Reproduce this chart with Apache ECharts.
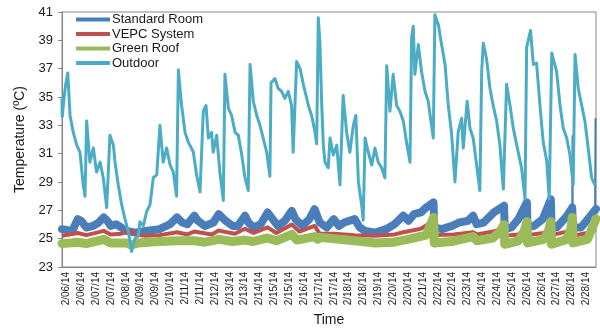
<!DOCTYPE html>
<html>
<head>
<meta charset="utf-8">
<title>Room temperatures, February 2014</title>
<script src="https://cdn.jsdelivr.net/npm/echarts@6/dist/echarts.min.js"></script>
<style>
  html, body { margin: 0; padding: 0; background: #ffffff; }
  #chart { width: 600px; height: 333px; }
</style>
</head>
<body>
<div id="chart"></div>
<script>
// Time is given in days from the start of the record (6 Feb 2014, ~01:00).

// Category-style date labels shown along the time axis
const tickLabels = [
  '2/06/14', '2/06/14', '2/07/14', '2/07/14', '2/08/14', '2/09/14', '2/09/14', '2/10/14',
  '2/11/14', '2/11/14', '2/12/14', '2/13/14', '2/13/14', '2/14/14', '2/15/14', '2/15/14',
  '2/16/14', '2/17/14', '2/17/14', '2/18/14', '2/18/14', '2/19/14', '2/20/14', '2/20/14',
  '2/21/14', '2/22/14', '2/22/14', '2/23/14', '2/24/14', '2/24/14', '2/25/14', '2/26/14',
  '2/26/14', '2/27/14', '2/28/14', '2/28/14'
];
const seriesNames = ['Standard Room', 'VEPC System', 'Green Roof', 'Outdoor'];

// Outdoor air temperature (°C)
const outdoorDays = [
  0.00, 0.01, 0.10, 0.16, 0.25, 0.35, 0.49, 0.64, 0.78, 0.92, 1.00, 1.07, 1.21, 1.36, 1.50, 1.65,
  1.79, 1.94, 2.08, 2.23, 2.30, 2.44, 2.59, 2.73, 2.88, 3.02, 3.17, 3.31, 3.38, 3.53, 3.67, 3.82,
  3.96, 4.11, 4.25, 4.39, 4.54, 4.69, 4.83, 4.97, 5.05, 5.19, 5.34, 5.48, 5.55, 5.70, 5.84, 5.99,
  6.13, 6.25, 6.35, 6.49, 6.56, 6.71, 6.85, 7.00, 7.07, 7.22, 7.36, 7.51, 7.65, 7.80, 7.94, 8.08,
  8.16, 8.30, 8.45, 8.59, 8.73, 8.88, 9.02, 9.07, 9.24, 9.38, 9.53, 9.67, 9.82, 9.96, 10.03, 10.18,
  10.33, 10.47, 10.69, 10.83, 10.98, 11.05, 11.12, 11.19, 11.27, 11.34, 11.41, 11.55, 11.63, 11.77, 11.92, 12.06,
  12.20, 12.35, 12.49, 12.64, 12.75, 12.86, 13.00, 13.07, 13.15, 13.29, 13.44, 13.58, 13.72, 13.87, 14.01, 14.09,
  14.23, 14.37, 14.52, 14.66, 14.81, 14.95, 15.10, 15.17, 15.24, 15.31, 15.46, 15.60, 15.75, 15.89, 16.11, 16.18,
  16.33, 16.47, 16.62, 16.76, 16.90, 17.05, 17.19, 17.34, 17.41, 17.58, 17.70, 17.84, 17.99, 18.13, 18.21, 18.28,
  18.42, 18.57, 18.71, 18.86, 19.00, 19.15, 19.29, 19.44, 19.58, 19.73, 19.94, 20.09, 20.16, 20.33, 20.45, 20.59,
  20.74, 20.88, 21.03, 21.14, 21.25, 21.46, 21.61, 21.75, 21.90, 22.04, 22.18, 22.26, 22.40, 22.55, 22.69, 22.83,
  22.98, 23.12
];
const outdoorTemp = [
  34.9, 33.6, 35.1, 35.9, 36.7, 33.7, 32.5, 31.6, 31.1, 28.8, 28.0, 33.3, 30.4, 31.4, 29.7, 30.4,
  29.3, 27.2, 32.3, 31.6, 30.4, 28.8, 27.4, 26.4, 25.5, 24.1, 25.0, 25.2, 26.2, 25.9, 26.9, 27.4,
  29.3, 29.5, 33.0, 30.4, 31.4, 30.2, 29.7, 28.0, 36.9, 34.4, 32.5, 31.8, 31.6, 31.1, 29.5, 28.3,
  34.0, 34.4, 32.1, 32.5, 31.1, 32.3, 29.7, 27.7, 36.6, 34.2, 33.7, 32.5, 32.3, 30.9, 29.3, 28.4,
  37.3, 34.7, 33.7, 33.0, 32.1, 31.1, 29.4, 36.0, 36.3, 35.6, 35.4, 34.9, 35.4, 34.4, 31.1, 37.5,
  37.0, 35.9, 34.4, 33.7, 32.5, 31.7, 40.6, 38.9, 34.4, 31.6, 30.4, 30.0, 32.1, 30.9, 31.6, 28.8,
  35.1, 32.5, 31.1, 33.0, 33.7, 29.0, 27.4, 26.3, 32.1, 31.1, 30.2, 31.4, 30.4, 30.0, 29.3, 37.2,
  34.0, 36.6, 34.4, 34.0, 33.3, 31.8, 30.4, 39.2, 40.0, 36.6, 38.7, 36.8, 35.4, 34.7, 32.1, 40.8,
  40.1, 38.7, 37.3, 34.4, 32.5, 29.0, 32.5, 33.5, 31.4, 34.7, 32.8, 32.1, 30.2, 28.4, 36.8, 38.8,
  37.7, 35.6, 34.4, 33.3, 31.6, 28.5, 35.9, 34.4, 32.8, 31.6, 30.0, 27.8, 38.5, 39.7, 37.3, 37.4,
  34.4, 31.8, 30.5, 27.8, 38.1, 36.8, 34.4, 32.8, 32.1, 30.9, 28.8, 38.0, 35.6, 34.4, 33.3, 31.4,
  29.3, 28.8
];

// Standard room (°C)
const roomDays = [
  0.00, 0.45, 0.68, 0.83, 1.06, 1.36, 1.59, 1.81, 1.97, 2.11, 2.34, 2.57, 2.79, 3.17, 3.63, 4.23,
  4.69, 4.99, 5.21, 5.44, 5.74, 5.90, 6.20, 6.57, 6.80, 7.10, 7.41, 7.63, 7.94, 8.09, 8.31, 8.62,
  8.92, 9.14, 9.37, 9.67, 9.97, 10.13, 10.43, 10.73, 10.96, 11.18, 11.49, 11.79, 12.02, 12.24, 12.70, 12.92,
  13.15, 13.60, 14.06, 14.43, 14.81, 15.04, 15.27, 15.57, 15.80, 16.12, 16.15, 16.48, 16.93, 17.23, 17.61, 17.84,
  17.99, 18.29, 18.74, 19.18, 19.21, 19.50, 19.80, 20.17, 20.20, 20.48, 20.86, 21.21, 21.24, 21.46, 21.92, 22.14,
  22.16, 22.52, 22.82, 23.17
];
const roomTemp = [
  25.67, 25.55, 26.38, 26.26, 25.79, 25.90, 26.14, 26.50, 26.26, 25.90, 26.02, 25.79, 25.55, 25.43, 25.55, 25.67,
  26.02, 26.50, 26.14, 26.02, 26.62, 26.26, 25.90, 26.14, 26.73, 26.26, 25.90, 25.90, 26.62, 26.14, 25.79, 26.02,
  26.85, 26.38, 25.90, 26.26, 26.96, 26.38, 25.90, 26.38, 27.08, 26.14, 25.79, 26.38, 25.90, 26.14, 26.38, 25.79,
  25.55, 25.43, 25.67, 26.02, 26.62, 26.26, 26.73, 26.85, 27.20, 27.56, 25.79, 25.67, 25.90, 26.14, 26.26, 26.62,
  26.02, 26.14, 26.85, 27.32, 25.67, 25.79, 26.38, 27.56, 25.79, 25.90, 26.38, 27.79, 25.79, 25.79, 26.62, 27.20,
  25.79, 25.79, 26.38, 27.10
];
// Short excursions of the standard room sensor ('-' breaks the line)
const roomSpikeDays = [22.14, 22.15, 22.16, '-', 23.13, 23.15];
const roomSpikeTemp = [27.2, 32.3, 25.8, '-', 27.1, 33.5];

// VEPC system room (°C)
const vepcDays = [
  0.00, 0.68, 1.06, 1.81, 2.11, 2.57, 2.95, 3.30, 3.63, 4.23, 4.99, 5.44, 5.74, 6.50, 6.80, 7.50,
  7.94, 8.31, 8.92, 9.30, 9.97, 10.30, 10.96, 11.18, 11.80, 12.70, 13.60, 14.43, 14.81, 15.57, 16.12, 16.15,
  17.00, 17.84, 18.00, 18.70, 19.18, 19.21, 19.80, 20.17, 20.20, 20.90, 21.21, 21.24, 21.90, 22.14, 22.17, 22.80,
  23.17
];
const vepcTemp = [
  25.20, 25.40, 25.25, 25.55, 25.30, 25.35, 25.55, 25.25, 25.20, 25.25, 25.45, 25.30, 25.50, 25.30, 25.57, 25.35,
  25.70, 25.40, 25.80, 25.40, 26.00, 25.50, 25.90, 25.35, 25.35, 25.25, 25.20, 25.30, 25.45, 25.70, 26.25, 25.25,
  25.30, 25.45, 25.30, 25.50, 25.75, 25.20, 25.30, 25.75, 25.25, 25.40, 25.80, 25.25, 25.50, 25.85, 25.20, 25.40,
  25.70
];

// Green roof room (°C)
const greenDays = [
  0.00, 0.68, 1.06, 1.81, 2.11, 2.80, 3.00, 3.30, 4.23, 4.99, 5.74, 6.20, 6.80, 7.40, 7.94, 8.30,
  8.92, 9.30, 9.97, 10.20, 10.96, 11.10, 11.15, 11.80, 12.70, 13.60, 14.40, 15.00, 15.80, 16.12, 16.15, 16.90,
  17.84, 18.00, 18.70, 19.00, 19.18, 19.21, 19.80, 20.05, 20.17, 20.20, 20.90, 21.10, 21.21, 21.24, 21.90, 22.08,
  22.14, 22.17, 22.80, 23.17
];
const greenTemp = [
  24.65, 24.75, 24.65, 24.95, 24.70, 24.70, 24.55, 24.70, 24.80, 24.85, 24.85, 24.75, 24.95, 24.80, 24.90, 24.80,
  25.05, 24.85, 25.30, 24.90, 25.15, 24.95, 25.10, 25.00, 24.85, 24.70, 24.75, 24.95, 25.25, 26.50, 24.70, 24.80,
  25.15, 24.85, 25.05, 25.50, 26.00, 24.60, 24.85, 25.50, 26.20, 24.70, 24.95, 25.50, 26.20, 24.60, 24.95, 25.70,
  26.50, 24.70, 24.95, 26.40
];

// Placement of the date labels along the time axis (days)
const firstTickDay = 0.19;
const tickStepDay = 0.6446;
const tickDays = tickLabels.map((_, i) => firstTickDay + i * tickStepDay);

const pairs = (xs, ys) => xs.map((x, i) => (x === '-' ? '-' : [x, ys[i]]));

const colors = {
  room: '#4a7ebb',
  vepc: '#c0504d',
  green: '#9bbb59',
  outdoor: '#4bacc6'
};
const fontFamily = '"Liberation Sans", Arial, sans-serif';
const axisGrey = '#868686';

const chart = echarts.init(document.getElementById('chart'), null, { renderer: 'canvas' });

chart.setOption({
  animation: false,
  backgroundColor: '#ffffff',
  textStyle: { fontFamily: fontFamily },
  color: [colors.room, colors.vepc, colors.green, colors.outdoor],
  grid: {
    left: 62, right: 4, top: 12, bottom: 66,
    show: true, borderColor: axisGrey, borderWidth: 1
  },
  legend: {
    data: seriesNames,
    orient: 'vertical',
    left: 76, top: 13,
    padding: 0,
    itemGap: 1.5,
    icon: 'rect',
    itemWidth: 34, itemHeight: 4,
    textStyle: { fontSize: 13, color: '#1a1a1a', fontFamily: fontFamily, padding: [0, 0, 0, -3] }
  },
  xAxis: {
    type: 'value',
    min: 0, max: 23.17,
    name: 'Time',
    nameLocation: 'middle',
    nameGap: 44,
    nameTextStyle: { fontSize: 14, color: '#1a1a1a' },
    axisLine: { show: true, lineStyle: { color: axisGrey, width: 1 } },
    axisTick: { show: false },
    splitLine: { show: false },
    axisLabel: {
      customValues: tickDays,
      rotate: 90,
      fontSize: 10,
      color: '#1a1a1a',
      margin: 5,
      formatter: (v) => {
        const i = Math.round((v - firstTickDay) / tickStepDay);
        return tickLabels[i] || '';
      }
    }
  },
  yAxis: {
    type: 'value',
    min: 23, max: 41, interval: 2,
    name: 'Temperature (ºC)',
    nameLocation: 'middle',
    nameGap: 35,
    nameRotate: 90,
    nameTextStyle: { fontSize: 14, color: '#1a1a1a' },
    axisLine: { show: true, lineStyle: { color: axisGrey, width: 1 } },
    axisTick: { show: true, length: 4, lineStyle: { color: axisGrey } },
    splitLine: { show: false },
    axisLabel: { fontSize: 13, color: '#1a1a1a', margin: 9 }
  },
  series: [
    {
      name: seriesNames[0], type: 'line', showSymbol: false, symbol: 'none',
      data: pairs(roomDays, roomTemp),
      lineStyle: { width: 8, color: colors.room, join: 'round', cap: 'round' },
      itemStyle: { color: colors.room }
    },
    {
      name: seriesNames[0], type: 'line', showSymbol: false, symbol: 'none',
      data: pairs(roomSpikeDays, roomSpikeTemp),
      connectNulls: false,
      lineStyle: { width: 2, color: colors.room },
      itemStyle: { color: colors.room }
    },
    {
      name: seriesNames[1], type: 'line', showSymbol: false, symbol: 'none',
      data: pairs(vepcDays, vepcTemp),
      lineStyle: { width: 4, color: colors.vepc, join: 'round' },
      itemStyle: { color: colors.vepc }
    },
    {
      name: seriesNames[2], type: 'line', showSymbol: false, symbol: 'none',
      data: pairs(greenDays, greenTemp),
      lineStyle: { width: 9, color: colors.green, join: 'round', cap: 'round' },
      itemStyle: { color: colors.green }
    },
    {
      name: seriesNames[3], type: 'line', showSymbol: false, symbol: 'none',
      data: pairs(outdoorDays, outdoorTemp),
      lineStyle: { width: 3, color: colors.outdoor, join: 'round' },
      itemStyle: { color: colors.outdoor }
    }
  ]
});
</script>
</body>
</html>
